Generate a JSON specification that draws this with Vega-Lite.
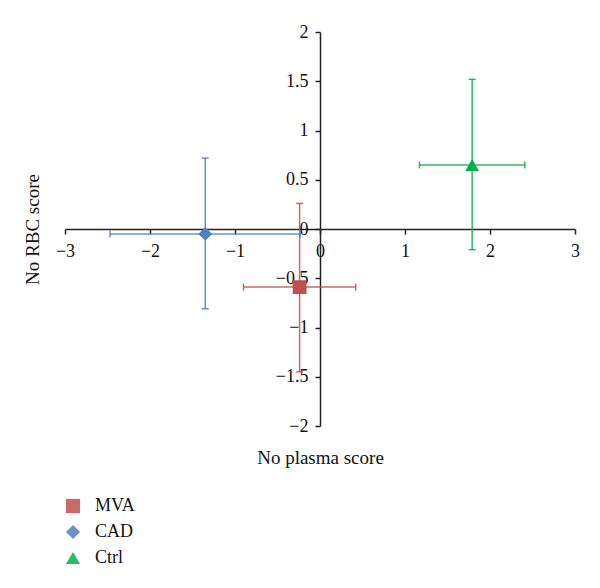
{
  "$schema": "https://vega.github.io/schema/vega-lite/v6.json",
  "width": 510,
  "height": 394,
  "autosize": {"type": "none"},
  "padding": {"left": 65, "top": 32, "right": 25, "bottom": 162},
  "background": "white",
  "config": {
    "view": {"stroke": null},
    "font": "Liberation Serif",
    "axis": {
      "domainColor": "#222222",
      "domainWidth": 1.5,
      "tickColor": "#222222",
      "tickWidth": 1.5,
      "tickSize": 5,
      "grid": false,
      "labelFont": "Liberation Serif",
      "labelFontSize": 18,
      "labelColor": "#111111",
      "labelOverlap": false,
      "labelFlush": false,
      "titleFont": "Liberation Serif",
      "titleFontSize": 19,
      "titleFontWeight": "normal",
      "titleColor": "#111111"
    },
    "axisX": {
      "offset": -197,
      "labelPadding": 8,
      "titleBaseline": "middle",
      "titleY": 228
    },
    "axisY": {
      "offset": -255,
      "labelPadding": 7,
      "titleBaseline": "middle",
      "titleAlign": "center",
      "titleAngle": -90,
      "titleX": -288,
      "titleY": 197
    },
    "legend": {
      "orient": "none",
      "legendX": -1,
      "legendY": 465,
      "padding": 0,
      "labelFont": "Liberation Serif",
      "labelFontSize": 18,
      "labelColor": "#111111",
      "labelOffset": 13,
      "symbolSize": 200,
      "symbolStrokeWidth": 0,
      "rowPadding": 8
    }
  },
  "data": {
    "values": [
      {"group": "MVA", "x": -0.24, "y": -0.59, "xlo": -0.90, "xhi": 0.42, "ylo": -1.45, "yhi": 0.26},
      {"group": "CAD", "x": -1.35, "y": -0.05, "xlo": -2.47, "xhi": -0.23, "ylo": -0.81, "yhi": 0.72},
      {"group": "Ctrl", "x": 1.79, "y": 0.65, "xlo": 1.17, "xhi": 2.41, "ylo": -0.21, "yhi": 1.52}
    ]
  },
  "layer": [
    {
      "mark": {"type": "rule", "strokeWidth": 1.5, "opacity": 0.85},
      "encoding": {
        "x": {"field": "xlo", "type": "quantitative", "scale": {"domain": [-3, 3], "nice": false}, "axis": {"values": [-3, -2, -1, 0, 1, 2, 3], "format": "~g", "title": "No plasma score"}},
        "x2": {"field": "xhi"},
        "y": {"field": "y", "type": "quantitative", "scale": {"domain": [-2, 2], "nice": false}, "axis": {"values": [-2, -1.5, -1, -0.5, 0, 0.5, 1, 1.5, 2], "format": "~g", "title": "No RBC score"}},
        "color": {"field": "group", "type": "nominal", "scale": {"domain": ["MVA", "CAD", "Ctrl"], "range": ["#C0504D", "#4F81BD", "#00B050"]}, "legend": {"title": null}}
      }
    },
    {
      "mark": {"type": "rule", "strokeWidth": 1.5, "opacity": 0.85},
      "encoding": {
        "x": {"field": "x", "type": "quantitative", "scale": {"domain": [-3, 3], "nice": false}, "axis": {"values": [-3, -2, -1, 0, 1, 2, 3], "format": "~g", "title": "No plasma score"}},
        "y": {"field": "ylo", "type": "quantitative", "scale": {"domain": [-2, 2], "nice": false}, "axis": {"values": [-2, -1.5, -1, -0.5, 0, 0.5, 1, 1.5, 2], "format": "~g", "title": "No RBC score"}},
        "y2": {"field": "yhi"},
        "color": {"field": "group", "type": "nominal", "scale": {"domain": ["MVA", "CAD", "Ctrl"], "range": ["#C0504D", "#4F81BD", "#00B050"]}, "legend": {"title": null}}
      }
    },
    {
      "mark": {"type": "tick", "orient": "vertical", "size": 7, "thickness": 1.5, "opacity": 0.85},
      "encoding": {
        "x": {"field": "xlo", "type": "quantitative", "scale": {"domain": [-3, 3], "nice": false}, "axis": {"values": [-3, -2, -1, 0, 1, 2, 3], "format": "~g", "title": "No plasma score"}},
        "y": {"field": "y", "type": "quantitative", "scale": {"domain": [-2, 2], "nice": false}, "axis": {"values": [-2, -1.5, -1, -0.5, 0, 0.5, 1, 1.5, 2], "format": "~g", "title": "No RBC score"}},
        "color": {"field": "group", "type": "nominal", "scale": {"domain": ["MVA", "CAD", "Ctrl"], "range": ["#C0504D", "#4F81BD", "#00B050"]}, "legend": {"title": null}}
      }
    },
    {
      "mark": {"type": "tick", "orient": "vertical", "size": 7, "thickness": 1.5, "opacity": 0.85},
      "encoding": {
        "x": {"field": "xhi", "type": "quantitative", "scale": {"domain": [-3, 3], "nice": false}, "axis": {"values": [-3, -2, -1, 0, 1, 2, 3], "format": "~g", "title": "No plasma score"}},
        "y": {"field": "y", "type": "quantitative", "scale": {"domain": [-2, 2], "nice": false}, "axis": {"values": [-2, -1.5, -1, -0.5, 0, 0.5, 1, 1.5, 2], "format": "~g", "title": "No RBC score"}},
        "color": {"field": "group", "type": "nominal", "scale": {"domain": ["MVA", "CAD", "Ctrl"], "range": ["#C0504D", "#4F81BD", "#00B050"]}, "legend": {"title": null}}
      }
    },
    {
      "mark": {"type": "tick", "orient": "horizontal", "size": 7, "thickness": 1.5, "opacity": 0.85},
      "encoding": {
        "x": {"field": "x", "type": "quantitative", "scale": {"domain": [-3, 3], "nice": false}, "axis": {"values": [-3, -2, -1, 0, 1, 2, 3], "format": "~g", "title": "No plasma score"}},
        "y": {"field": "ylo", "type": "quantitative", "scale": {"domain": [-2, 2], "nice": false}, "axis": {"values": [-2, -1.5, -1, -0.5, 0, 0.5, 1, 1.5, 2], "format": "~g", "title": "No RBC score"}},
        "color": {"field": "group", "type": "nominal", "scale": {"domain": ["MVA", "CAD", "Ctrl"], "range": ["#C0504D", "#4F81BD", "#00B050"]}, "legend": {"title": null}}
      }
    },
    {
      "mark": {"type": "tick", "orient": "horizontal", "size": 7, "thickness": 1.5, "opacity": 0.85},
      "encoding": {
        "x": {"field": "x", "type": "quantitative", "scale": {"domain": [-3, 3], "nice": false}, "axis": {"values": [-3, -2, -1, 0, 1, 2, 3], "format": "~g", "title": "No plasma score"}},
        "y": {"field": "yhi", "type": "quantitative", "scale": {"domain": [-2, 2], "nice": false}, "axis": {"values": [-2, -1.5, -1, -0.5, 0, 0.5, 1, 1.5, 2], "format": "~g", "title": "No RBC score"}},
        "color": {"field": "group", "type": "nominal", "scale": {"domain": ["MVA", "CAD", "Ctrl"], "range": ["#C0504D", "#4F81BD", "#00B050"]}, "legend": {"title": null}}
      }
    },
    {
      "mark": {"type": "point", "filled": true, "opacity": 1, "size": 190},
      "encoding": {
        "x": {"field": "x", "type": "quantitative", "scale": {"domain": [-3, 3], "nice": false}, "axis": {"values": [-3, -2, -1, 0, 1, 2, 3], "format": "~g", "title": "No plasma score"}},
        "y": {"field": "y", "type": "quantitative", "scale": {"domain": [-2, 2], "nice": false}, "axis": {"values": [-2, -1.5, -1, -0.5, 0, 0.5, 1, 1.5, 2], "format": "~g", "title": "No RBC score"}},
        "color": {"field": "group", "type": "nominal", "scale": {"domain": ["MVA", "CAD", "Ctrl"], "range": ["#C0504D", "#4F81BD", "#00B050"]}, "legend": {"title": null}},
        "shape": {"field": "group", "type": "nominal", "scale": {"domain": ["MVA", "CAD", "Ctrl"], "range": ["square", "diamond", "triangle-up"]}, "legend": {"title": null}}
      }
    }
  ]
}
